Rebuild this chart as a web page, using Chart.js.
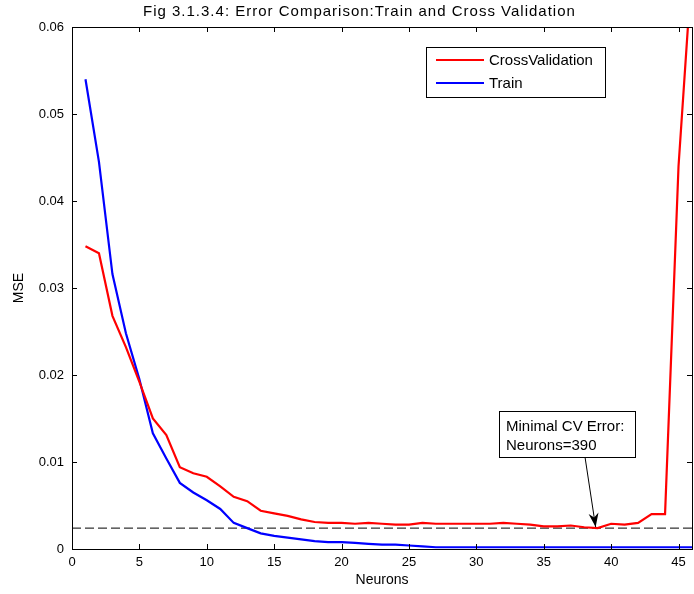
<!DOCTYPE html>
<html>
<head>
<meta charset="utf-8">
<script src="https://cdn.jsdelivr.net/npm/chart.js@4.4.1/dist/chart.umd.min.js"></script>
<style>
  html, body { margin: 0; padding: 0; background: #fff; }
  canvas { display: block; }
</style>
</head>
<body>
<canvas id="c" width="694" height="594"></canvas>
<script>
// ---- data ----
const neurons = [1,2,3,4,5,6,7,8,9,10,11,12,13,14,15,16,17,18,19,20,21,22,23,24,25,26,27,28,29,30,31,32,33,34,35,36,37,38,39,40,41,42,43,44,45,46];
const crossValidation = [0.0348,0.0340,0.0268,0.0232,0.0192,0.0150,0.0131,0.0094,0.0087,0.0083,
  0.0072,0.0060,0.0055,0.0044,0.0041,0.0038,0.0034,0.0031,0.0030,0.0030,
  0.0029,0.0030,0.0029,0.0028,0.0028,0.0030,0.0029,0.0029,0.0029,0.0029,
  0.0029,0.0030,0.0029,0.0028,0.0026,0.0026,0.0027,0.0025,0.0024,0.0029,
  0.0028,0.0030,0.0040,0.0040,0.0440,0.0670];
const train = [0.0540,0.0445,0.0316,0.0248,0.0195,0.0133,0.0104,0.0076,0.0065,0.0056,
  0.0046,0.0030,0.0024,0.0018,0.0015,0.0013,0.0011,0.0009,0.0008,0.0008,
  0.0007,0.0006,0.0005,0.0005,0.0004,0.0003,0.0002,0.0002,0.0002,0.0002,
  0.0002,0.0002,0.0002,0.0002,0.0002,0.0002,0.0002,0.0002,0.0002,0.0002,
  0.0002,0.0002,0.0002,0.0002,0.0002,0.0002];
const seriesNames = ['CrossValidation', 'Train'];
const titleText = 'Fig 3.1.3.4: Error Comparison:Train and Cross Validation';
const xLabel = 'Neurons';
const yLabel = 'MSE';
const annotationLines = ['Minimal CV Error:', 'Neurons=390'];
const xRange = [0, 46];
const yRange = [0, 0.06];

const FONT = "'Liberation Sans', Arial, Helvetica, sans-serif";
const minCV = Math.min(...crossValidation);
const minIdx = crossValidation.indexOf(minCV);

const decor = {
  id: 'decor',
  afterDatasetsDraw(chart) {
    const ctx = chart.ctx;
    const a = chart.chartArea;
    const xs = chart.scales.x, ys = chart.scales.y;
    ctx.save();
    // frame
    ctx.strokeStyle = '#000';
    ctx.lineWidth = 1;
    ctx.strokeRect(Math.round(a.left) + 0.5, Math.round(a.top) + 0.5,
      Math.round(a.right - a.left), Math.round(a.bottom - a.top));
    // inward ticks
    const tl = 5;
    ctx.beginPath();
    xs.ticks.forEach(t => {
      const px = Math.round(xs.getPixelForValue(t.value)) + 0.5;
      ctx.moveTo(px, a.bottom); ctx.lineTo(px, a.bottom - tl);
      ctx.moveTo(px, a.top); ctx.lineTo(px, a.top + tl);
    });
    ys.ticks.forEach(t => {
      const py = Math.round(ys.getPixelForValue(t.value)) + 0.5;
      ctx.moveTo(a.left, py); ctx.lineTo(a.left + tl, py);
      ctx.moveTo(a.right, py); ctx.lineTo(a.right - tl, py);
    });
    ctx.stroke();

    // title
    ctx.fillStyle = '#000';
    ctx.font = '15px ' + FONT;
    if ('letterSpacing' in ctx) ctx.letterSpacing = '1px';
    ctx.textAlign = 'left';
    ctx.textBaseline = 'middle';
    ctx.fillText(titleText, 143, 12);
    if ('letterSpacing' in ctx) ctx.letterSpacing = '0px';

    // legend box
    const lx = 426, ly = 47, lw = 179, lh = 50;
    ctx.fillStyle = '#fff';
    ctx.fillRect(lx, ly, lw, lh);
    ctx.strokeStyle = '#000';
    ctx.strokeRect(lx + 0.5, ly + 0.5, lw, lh);
    const colors = ['#ff0000', '#0000ff'];
    const rows = [60, 83];
    ctx.font = '15px ' + FONT;
    ctx.textAlign = 'left';
    seriesNames.forEach((n, i) => {
      ctx.strokeStyle = colors[i];
      ctx.lineWidth = 2;
      ctx.beginPath();
      ctx.moveTo(436, rows[i]); ctx.lineTo(484, rows[i]);
      ctx.stroke();
      ctx.fillStyle = '#000';
      ctx.fillText(n, 489, rows[i] + 1);
    });

    // annotation box
    const bx = 499, by = 411, bw = 136, bh = 46;
    ctx.lineWidth = 1;
    ctx.fillStyle = '#fff';
    ctx.fillRect(bx, by, bw, bh);
    ctx.strokeStyle = '#000';
    ctx.strokeRect(bx + 0.5, by + 0.5, bw, bh);
    ctx.fillStyle = '#000';
    ctx.font = '15px ' + FONT;
    ctx.fillText(annotationLines[0], 506, 427);
    ctx.fillText(annotationLines[1], 506, 446);

    // arrow to minimum
    const tipX = xs.getPixelForValue(neurons[minIdx]) - 2;
    const tipY = ys.getPixelForValue(minCV) - 1;
    const sx = 585, sy = by + bh;
    ctx.beginPath();
    ctx.moveTo(sx, sy); ctx.lineTo(tipX, tipY);
    ctx.stroke();
    const ang = Math.atan2(tipY - sy, tipX - sx);
    const hl = 14, hw = 5;
    ctx.beginPath();
    ctx.moveTo(tipX, tipY);
    ctx.lineTo(tipX - hl * Math.cos(ang) + hw * Math.sin(ang), tipY - hl * Math.sin(ang) - hw * Math.cos(ang));
    ctx.lineTo(tipX - hl * 0.7 * Math.cos(ang), tipY - hl * 0.7 * Math.sin(ang));
    ctx.lineTo(tipX - hl * Math.cos(ang) - hw * Math.sin(ang), tipY - hl * Math.sin(ang) + hw * Math.cos(ang));
    ctx.closePath();
    ctx.fill();
    ctx.restore();
  }
};

new Chart(document.getElementById('c'), {
  type: 'line',
  data: {
    datasets: [
      {
        label: seriesNames[0],
        data: neurons.map((n, i) => ({ x: n, y: crossValidation[i] })),
        borderColor: '#ff0000', borderWidth: 2.2, pointRadius: 0, tension: 0, fill: false
      },
      {
        label: seriesNames[1],
        data: neurons.map((n, i) => ({ x: n, y: train[i] })),
        borderColor: '#0000ff', borderWidth: 2.2, pointRadius: 0, tension: 0, fill: false
      },
      {
        label: 'min',
        data: [{ x: xRange[0], y: minCV }, { x: xRange[1], y: minCV }],
        borderColor: '#000', borderWidth: 1, borderDash: [9, 4], pointRadius: 0, fill: false
      }
    ]
  },
  options: {
    responsive: false,
    animation: false,
    devicePixelRatio: 1,
    layout: { padding: { top: 27, right: 2, left: 0, bottom: 0 } },
    plugins: { legend: { display: false }, tooltip: { enabled: false }, title: { display: false } },
    scales: {
      x: {
        type: 'linear', min: xRange[0], max: xRange[1],
        grid: { display: false, drawTicks: false },
        border: { display: false },
        ticks: { stepSize: 5, includeBounds: false, color: '#000', padding: 6, maxRotation: 0,
          font: { family: FONT, size: 13 } },
        title: { display: true, text: xLabel, color: '#000', font: { family: FONT, size: 14 },
          padding: { top: 0, bottom: 5 } },
        afterFit: s => { s.height = 45; }
      },
      y: {
        type: 'linear', min: yRange[0], max: yRange[1],
        grid: { display: false, drawTicks: false },
        border: { display: false },
        ticks: { stepSize: 0.01, color: '#000', padding: 8,
          font: { family: FONT, size: 13 },
          callback: v => (Math.abs(v) < 1e-9 ? '0' : (+v.toFixed(2)).toString()) },
        title: { display: true, text: yLabel, color: '#000', font: { family: FONT, size: 14 },
          padding: { top: 11, bottom: 0 } },
        afterFit: s => { s.width = 72; }
      }
    }
  },
  plugins: [decor]
});
</script>
</body>
</html>
